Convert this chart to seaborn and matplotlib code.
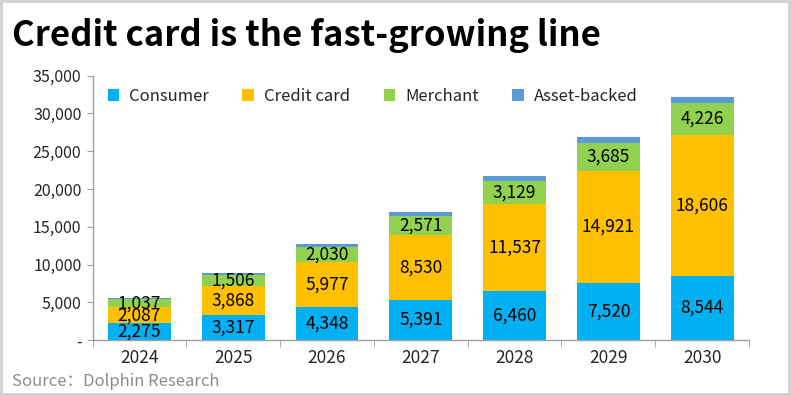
import numpy as np
import pandas as pd
import matplotlib
matplotlib.use("Agg")
import matplotlib.pyplot as plt
import seaborn as sns
from matplotlib.ticker import FuncFormatter, FixedLocator
from matplotlib.patches import Rectangle

years = ["2024", "2025", "2026", "2027", "2028", "2029", "2030"]
consumer = [2275, 3317, 4348, 5391, 6460, 7520, 8544]
credit_card = [2087, 3868, 5977, 8530, 11537, 14921, 18606]
merchant = [1037, 1506, 2030, 2571, 3129, 3685, 4226]
asset_backed = [150, 220, 320, 450, 580, 700, 860]  # read off bar tops, no labels

series = [
    ("Consumer", consumer, "#00B0F0"),
    ("Credit card", credit_card, "#FFC000"),
    ("Merchant", merchant, "#92D050"),
    ("Asset-backed", asset_backed, "#5B9BD5"),
]

sns.set_style("white")
plt.rcParams['font.family'] = ['Noto Sans CJK SC', 'DejaVu Sans']

fig = plt.figure(figsize=(7.91, 3.95), dpi=100)
ax = fig.add_axes([0.117, 0.1385, 0.830, 0.67])

bottom = np.zeros(len(years))
for name, vals, col in series:
    df = pd.DataFrame({"year": years, "val": vals})
    sns.barplot(data=df, x="year", y="val", color=col, bottom=bottom, width=0.67,
                label=name, ax=ax, saturation=1, linewidth=0)
    if name != "Asset-backed":
        cont = ax.containers[-1]
        ax.bar_label(cont, labels=[f"{v:,}" for v in vals], label_type="center",
                     fontsize=12.5, color="black")
    bottom = bottom + np.array(vals)

ax.set_ylim(0, 35000)
ax.set_xlim(-0.5, 6.5)
ax.set_xlabel("")
ax.set_ylabel("")
ax.yaxis.set_major_locator(FixedLocator(np.arange(0, 35001, 5000)))
ax.yaxis.set_major_formatter(FuncFormatter(lambda v, p: "-" if v == 0 else f"{int(v):,}"))
ax.tick_params(axis="y", labelsize=11.5, length=4, color="#a0a0a0", direction="out", left=True, pad=4)
ax.tick_params(axis="x", which="major", labelsize=12.5, length=0, pad=6)
ax.set_xticks(np.arange(-0.5, 7, 1), minor=True)
ax.tick_params(axis="x", which="minor", length=5, color="#a0a0a0", bottom=True)

for s in ["top", "right"]:
    ax.spines[s].set_visible(False)
for s in ["left", "bottom"]:
    ax.spines[s].set_color("#a0a0a0")
    ax.spines[s].set_linewidth(1)

ax.legend(loc="upper left", bbox_to_anchor=(0.0, 1.01), ncol=4, frameon=False,
          fontsize=12, handlelength=0.7, handleheight=0.7, handletextpad=0.6,
          columnspacing=2.0)

fig.text(0.015, 0.91, "Credit card is the fast-growing line", fontsize=25,
         fontweight="bold", color="black", va="center", ha="left")
fig.text(0.015, 0.033, "Source：Dolphin Research", fontsize=12, color="#8c8c8c",
         va="center", ha="left")

fig.patches.append(Rectangle((0.001, 0.002), 0.997, 0.995, transform=fig.transFigure,
                             fill=False, edgecolor="#d0d0d0", linewidth=2))

fig.savefig("out.png", dpi=100)
